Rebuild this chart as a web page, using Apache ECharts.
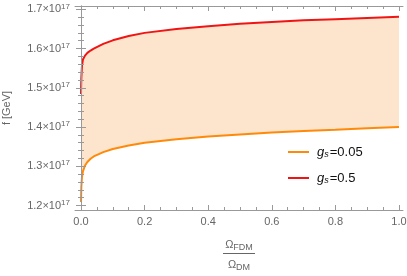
<!DOCTYPE html>
<html>
<head>
<meta charset="utf-8">
<script src="https://cdn.jsdelivr.net/npm/echarts@6/dist/echarts.min.js"></script>
<style>html,body{margin:0;padding:0;background:#fff;}#c{width:407px;height:276px;}</style>
</head>
<body>
<div id="c"></div>
<script>
// ---- data (f in units of 10^17 GeV) ----
const xValues = [0, 0.0005, 0.001, 0.003, 0.006, 0.0126, 0.02, 0.03, 0.04, 0.07, 0.1, 0.15, 0.2, 0.3, 0.4, 0.5, 0.6, 0.7, 0.8, 0.9, 1.0];
const fOrange = [1.209, 1.232, 1.247, 1.272, 1.287, 1.302, 1.311, 1.319, 1.325, 1.336, 1.344, 1.353, 1.360, 1.369, 1.376, 1.381, 1.386, 1.390, 1.393, 1.397, 1.400];
const fRed    = [1.484, 1.508, 1.525, 1.556, 1.572, 1.582, 1.589, 1.595, 1.600, 1.612, 1.621, 1.632, 1.640, 1.650, 1.657, 1.663, 1.668, 1.672, 1.675, 1.678, 1.681];
const seriesNames = ['g_s=0.05', 'g_s=0.5'];
const xMajorTicks = [0, 0.2, 0.4, 0.6, 0.8, 1.0];
const yMajorTicks = [1.2, 1.3, 1.4, 1.5, 1.6, 1.7];
const xMinorPerMajor = 4;
const yMinorPerMajor = 5;

function minorTicks(major, n) {
  const out = [];
  for (let i = 0; i < major.length - 1; i++) {
    const a = major[i], b = major[i + 1];
    for (let k = 1; k < n; k++) out.push(+(a + (b - a) * k / n).toFixed(6));
  }
  return out;
}
const xMinorTicks = minorTicks(xMajorTicks, xMinorPerMajor);
const yMinorTicks = minorTicks(yMajorTicks, yMinorPerMajor);

const pairs = (ys) => xValues.map((x, i) => [x, ys[i]]);

const GRAY = '#999999';
const LABEL = '#666666';
const FONT = 'Liberation Sans, Arial, sans-serif';
const C_ORANGE = '#ff8a0a';
const C_RED = '#f01515';
const C_FILL = '#fde4cc';

const XMIN = -0.0189, XMAX = 1.0126, YMIN = 1.1885, YMAX = 1.7085;

function xAx(position, ticks, len, showLine, showLabel) {
  return {
    type: 'value', min: XMIN, max: XMAX, position: position, gridIndex: 0, z: 10,
    axisLine: { show: showLine, lineStyle: { color: GRAY, width: 1 } },
    axisTick: { show: true, inside: true, length: len, customValues: ticks, lineStyle: { color: GRAY, width: 1 } },
    axisLabel: showLabel ? { show: true, customValues: xMajorTicks, color: LABEL, fontSize: 11, fontFamily: FONT, margin: 6,
      formatter: (v) => v.toFixed(1) } : { show: false },
    splitLine: { show: false }
  };
}
function yAx(position, ticks, len, showLine, showLabel) {
  const ax = {
    type: 'value', min: YMIN, max: YMAX, position: position, gridIndex: 0, z: 10,
    axisLine: { show: showLine, lineStyle: { color: GRAY, width: 1 } },
    axisTick: { show: true, inside: true, length: len, customValues: ticks, lineStyle: { color: GRAY, width: 1 } },
    axisLabel: showLabel ? { show: true, customValues: yMajorTicks, margin: 5, fontFamily: FONT,
      formatter: (v) => '{a|' + v.toFixed(1) + '×10}{s|17}',
      rich: { a: { color: LABEL, fontSize: 11, fontFamily: FONT, lineHeight: 14 },
              s: { color: LABEL, fontSize: 8, fontFamily: FONT, lineHeight: 14, verticalAlign: 'top' } } } : { show: false },
    splitLine: { show: false }
  };
  if (showLabel) {
    ax.name = 'f [GeV]';
    ax.nameLocation = 'middle';
    ax.nameRotate = 90;
    ax.nameGap = 63;
    ax.nameTextStyle = { color: LABEL, fontSize: 11, fontFamily: FONT };
  }
  return ax;
}

const legendRich = {
  i: { fontSize: 13, fontStyle: 'italic', fontFamily: FONT, color: '#111', lineHeight: 14 },
  s: { fontSize: 9, fontStyle: 'italic', fontFamily: FONT, color: '#111', lineHeight: 14, verticalAlign: 'bottom', padding: [6, 1, 0, 0] },
  t: { fontSize: 13, fontFamily: FONT, color: '#111', lineHeight: 14 }
};

const option = {
  animation: false,
  backgroundColor: '#ffffff',
  grid: { left: 75, right: 4, top: 6, bottom: 66, containLabel: false, outerBoundsMode: 'none' },
  xAxis: [
    xAx('bottom', xMajorTicks, 5, true, true),
    xAx('bottom', xMinorTicks, 3, false, false),
    xAx('top', xMajorTicks, 5, true, false),
    xAx('top', xMinorTicks, 3, false, false)
  ],
  yAxis: [
    yAx('left', yMajorTicks, 5, true, true),
    yAx('left', yMinorTicks, 3, false, false),
    yAx('right', yMajorTicks, 5, true, false),
    yAx('right', yMinorTicks, 3, false, false)
  ],
  legend: {
    orient: 'vertical', left: 283, top: 139, itemWidth: 21, itemHeight: 2, itemGap: 11,
    icon: 'rect',
    data: seriesNames,
    formatter: (name) => {
      const m = name.split('=');
      return '{i|' + m[0].split('_')[0] + '}{s|' + m[0].split('_')[1] + '}{t|=' + m[1] + '}';
    },
    textStyle: { rich: legendRich, padding: [0, 0, 0, 3] }
  },
  series: [
    { name: 'fillTop', type: 'line', data: pairs(fRed), symbol: 'none', silent: true,
      lineStyle: { opacity: 0 }, areaStyle: { color: C_FILL, opacity: 1, origin: 'start' }, z: 1 },
    { name: 'fillBottom', type: 'line', data: pairs(fOrange), symbol: 'none', silent: true,
      lineStyle: { opacity: 0 }, areaStyle: { color: '#ffffff', opacity: 1, origin: 'start' }, z: 2 },
    { name: seriesNames[0], type: 'line', data: pairs(fOrange), symbol: 'none', color: C_ORANGE,
      lineStyle: { color: C_ORANGE, width: 2 }, z: 3 },
    { name: seriesNames[1], type: 'line', data: pairs(fRed), symbol: 'none', color: C_RED,
      lineStyle: { color: C_RED, width: 2 }, z: 3 }
  ],
  graphic: [
    { type: 'text', x: 239, y: 245, style: { text: '{o|Ω}{s|FDM}', align: 'center', verticalAlign: 'middle',
      rich: { o: { fontSize: 11, fontFamily: FONT, fill: LABEL, color: LABEL, lineHeight: 14 },
              s: { fontSize: 9, fontFamily: FONT, fill: LABEL, color: LABEL, lineHeight: 14, verticalAlign: 'bottom', padding: [5, 0, 0, 0] } } } },
    { type: 'line', shape: { x1: 223, y1: 253.5, x2: 255, y2: 253.5 }, style: { stroke: LABEL, lineWidth: 1 } },
    { type: 'text', x: 239, y: 265, style: { text: '{o|Ω}{s|DM}', align: 'center', verticalAlign: 'middle',
      rich: { o: { fontSize: 11, fontFamily: FONT, fill: LABEL, color: LABEL, lineHeight: 14 },
              s: { fontSize: 9, fontFamily: FONT, fill: LABEL, color: LABEL, lineHeight: 14, verticalAlign: 'bottom', padding: [5, 0, 0, 0] } } } }
  ]
};

const chart = echarts.init(document.getElementById('c'), null, { renderer: 'canvas' });
chart.setOption(option);
</script>
</body>
</html>
